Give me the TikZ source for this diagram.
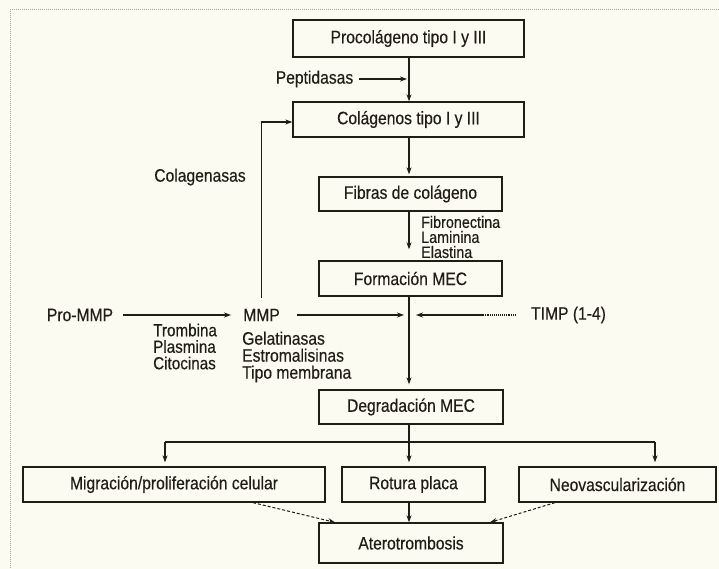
\documentclass[tikz,border=0pt]{standalone}
\usepackage{fontspec}
\setmainfont{Liberation Sans}[FakeStretch=0.87, FakeBold=0.35]
\usetikzlibrary{arrows.meta,calc}
\definecolor{paper}{RGB}{252,251,242}
\definecolor{ink}{RGB}{32,29,22}
\begin{document}
\begin{tikzpicture}[x=1pt,y=-1pt,
  every node/.style={font=\fontsize{18}{18}\selectfont, text=ink},
  box/.style={draw=ink, line width=1.3pt, rectangle, inner sep=0pt},
  lbl/.style={inner sep=3pt},
  arr/.style={draw=ink, line width=1.1pt, -{Stealth[length=7pt,width=5pt]}},
  ln/.style={draw=ink, line width=1.1pt},
  dsh/.style={draw=ink, line width=1pt, densely dashed, -{Stealth[length=7pt,width=5pt]}},
  frame/.style={draw=gray!70, line width=1pt, densely dotted}]
\useasboundingbox (0,0) rectangle (719,569);
\fill[paper] (0,0) rectangle (719,569);
\draw[frame] (719,10) -- (10,10) -- (10,569);

% coordinates of the trunk and branches
\coordinate (tr) at (409,0);
\coordinate (jn) at (409,315);
\coordinate (bL) at (165,442);
\coordinate (bM) at (409,442);
\coordinate (bR) at (655,442);
\coordinate (tdot) at (483,315);

% boxes
\node[box, minimum width=231pt, minimum height=37pt] (proc) at (408.5,38.5) {Procolágeno tipo I y III};
\node[box, minimum width=231pt, minimum height=35pt] (colg) at (408.5,119.5) {Colágenos tipo I y III};
\node[box, minimum width=183pt, minimum height=34pt] (fib) at (410.5,194) {Fibras de colágeno};
\node[box, minimum width=183pt, minimum height=35pt] (form) at (410.5,278.5) {Formación MEC};
\node[box, minimum width=184pt, minimum height=34pt] (degr) at (411,407) {Degradación MEC};
\node[box, minimum width=302pt, minimum height=35pt] (migr) at (174,484.5) {Migración/proliferación celular};
\node[box, minimum width=143pt, minimum height=35pt] (rot) at (413.5,484.5) {Rotura placa};
\node[box, minimum width=197pt, minimum height=35pt] (neo) at (617.5,484.5) {Neovascularización};
\node[box, minimum width=184pt, minimum height=40pt] (ater) at (411,543) {Aterotrombosis};

% labels
\node[lbl] (pep) at (314.5,79) {Peptidasas};
\node[lbl] (colgs) at (200,177) {Colagenasas};
\node[lbl, anchor=west, align=left, font=\fontsize{16.5}{15}\selectfont] (fibl) at (418,237) {Fibronectina\\Laminina\\Elastina};
\node[lbl] (pmmp) at (80,315) {Pro-MMP};
\node[lbl] (mmp) at (261.5,315) {MMP};
\node[lbl] (timp) at (568.5,315) {TIMP (1-4)};
\node[lbl, anchor=west, align=left, font=\fontsize{17.5}{16.5}\selectfont] (trom) at (150,346.5) {Trombina\\Plasmina\\Citocinas};
\node[lbl, anchor=west, align=left, font=\fontsize{18}{17}\selectfont] (gel) at (239,357) {Gelatinasas\\Estromalisinas\\Tipo membrana};

% connectors
\draw[arr] (proc.south -| tr) -- (colg.north -| tr);
\draw[arr, shorten <=3pt, shorten >=2pt] (pep.east) -- (pep.east -| tr);
\draw[arr] ([yshift=8pt]mmp.north) |- ([yshift=-2.5pt]colg.west);
\draw[arr, shorten >=2pt] (colg.south -| tr) -- (fib.north -| tr);
\draw[arr, shorten >=11pt] (fib.south -| tr) -- (form.north -| tr);
\draw[arr, shorten >=5pt] (form.south -| tr) -- (degr.north -| tr);
\draw[arr, shorten <=7pt, shorten >=9pt] (pmmp.east) -- (mmp.west);
\draw[arr, shorten <=14pt, shorten >=5pt] (mmp.east) -- (jn);
\draw[ln, densely dotted, shorten <=12pt] (timp.west) -- (tdot);
\draw[arr, shorten >=7pt] (tdot) -- (jn);
\draw[ln] (degr.south -| tr) -- (bM);
\draw[ln] (bL) -- (bR);
\draw[arr, shorten >=4pt] (bL) -- (migr.north -| bL);
\draw[arr, shorten >=4pt] (bM) -- (rot.north -| bM);
\draw[arr, shorten >=4pt] (bR) -- (neo.north -| bR);
\draw[arr] (rot.south -| tr) -- (ater.north -| tr);
\draw[dsh] ([xshift=79pt]migr.south) -- ([xshift=-76pt]ater.north);
\draw[dsh] ([xshift=-62.5pt]neo.south) -- ([xshift=79pt]ater.north);
\end{tikzpicture}
\end{document}
